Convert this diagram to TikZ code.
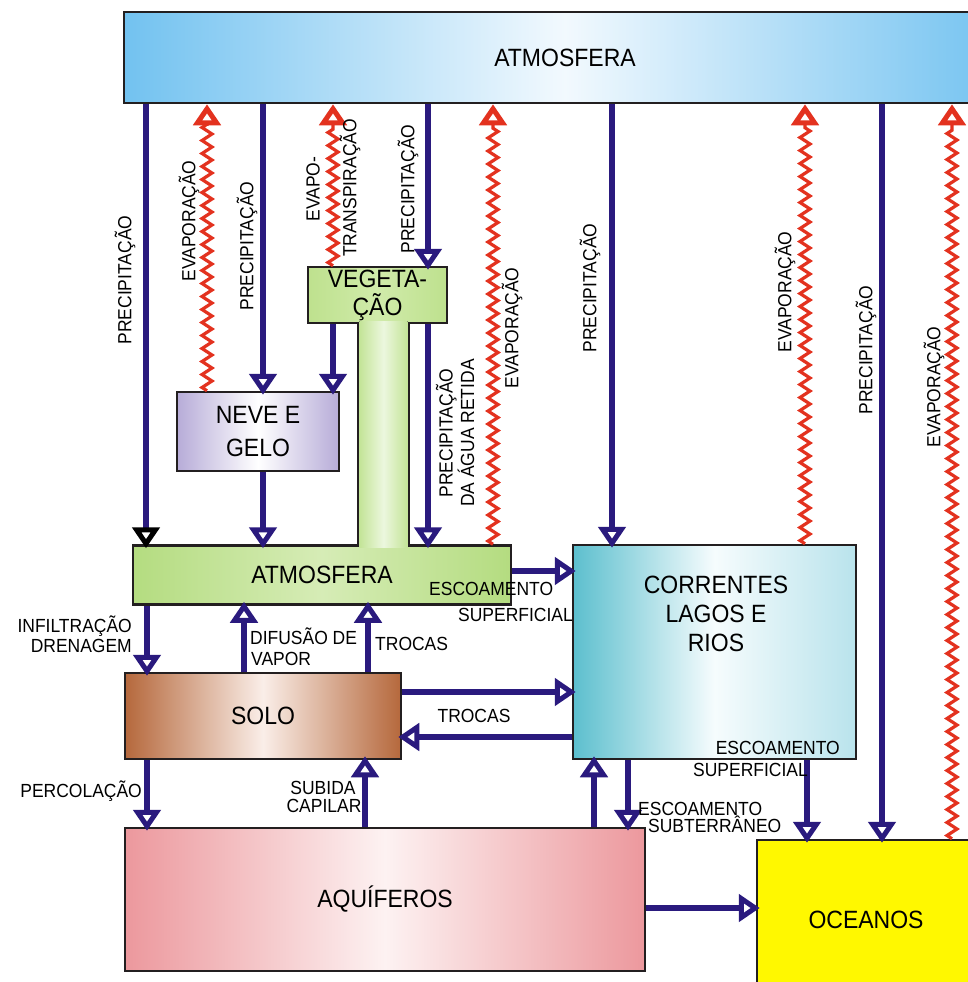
\documentclass[tikz,border=0pt]{standalone}
\usepackage{fontspec}
\setmainfont{Liberation Sans}[FakeStretch=0.92]
\usetikzlibrary{arrows.meta,decorations.pathmorphing,calc}
\definecolor{navyc}{HTML}{2A1A7E}
\definecolor{zred}{HTML}{E3321F}
\definecolor{bord}{HTML}{231F20}
\tikzset{
  box/.style={draw=bord, line width=2.5pt, inner sep=0pt, align=center, font=\fontsize{25}{29}\selectfont},
  boxtext/.style={inner sep=0pt, align=center, font=\fontsize{25}{29}\selectfont},
  lab/.style={inner sep=0pt, font=\fontsize{19}{20}\selectfont},
  flow/.style={draw=navyc, line width=6pt, shorten >=-4pt, -{Triangle[open,length=21pt,width=27pt,line width=5pt]}},
  flowk/.style={draw=navyc, line width=6pt, shorten >=-4pt, -{Triangle[open,length=21pt,width=27pt,line width=5pt,color=black]}},
  evap/.style={draw=zred, line width=3.2pt, decoration={zigzag,segment length=13pt,amplitude=5pt}, -{Triangle[open,length=21pt,width=27pt,line width=5pt]}},
  borderline/.style={draw=bord, line width=2.5pt},
}
\newcommand\evapline[2]{\draw[evap] (#1) decorate {-- ($(#2)+(0,20)$)} -- (#2);}
\begin{document}
\begin{tikzpicture}[x=1pt,y=-1pt]
\fill[white] (0,0) rectangle (967,982);
\useasboundingbox (0,0) rectangle (967,982);

% boxes
\node[box, minimum width=882pt, minimum height=91pt, left color={rgb,255:red,114;green,194;blue,240}, right color={rgb,255:red,114;green,194;blue,240}, middle color={rgb,255:red,242;green,249;blue,254}] (atm) at (565,57.5) {ATMOSFERA};
\node[box, minimum width=139pt, minimum height=56pt, left color={rgb,255:red,190;green,225;blue,142}, right color={rgb,255:red,190;green,225;blue,142}, middle color={rgb,255:red,208;green,235;blue,170}] (veg) at (377.5,295) {VEGETA-\\[-1pt]ÇÃO};
\node[box, minimum width=162pt, minimum height=79pt, font=\fontsize{25}{33}\selectfont, left color={rgb,255:red,183;green,172;blue,216}, right color={rgb,255:red,183;green,172;blue,216}, middle color=white] (neve) at (258,431.5) {NEVE E\\GELO};
\node[box, minimum width=378pt, minimum height=59pt, left color={rgb,255:red,180;green,220;blue,128}, right color={rgb,255:red,180;green,220;blue,128}, middle color={rgb,255:red,214;green,236;blue,182}] (gatm) at (322,575) {ATMOSFERA};
\node[box, minimum width=276pt, minimum height=86pt, left color={rgb,255:red,181;green,104;blue,60}, right color={rgb,255:red,181;green,104;blue,60}, middle color={rgb,255:red,250;green,238;blue,232}] (solo) at (263,716) {SOLO};
\node[box, minimum width=283pt, minimum height=214pt, left color={rgb,255:red,92;green,191;blue,206}, right color={rgb,255:red,185;green,227;blue,236}, middle color={rgb,255:red,246;green,252;blue,253}] (corr) at (714.5,652) {};
\node[box, minimum width=520pt, minimum height=143pt, left color={rgb,255:red,236;green,152;blue,157}, right color={rgb,255:red,236;green,152;blue,157}, middle color={rgb,255:red,253;green,242;blue,242}] (aq) at (385,899.5) {AQUÍFEROS};
\node[box, minimum width=218pt, minimum height=160pt, fill={rgb,255:red,255;green,248;blue,0}] (oce) at (866,920) {OCEANOS};
\node[boxtext] (corrtxt) at (716,614) {CORRENTES\\LAGOS E\\RIOS};

% stem of the T
\fill[left color={rgb,255:red,195;green,228;blue,151}, right color={rgb,255:red,195;green,228;blue,151}, middle color={rgb,255:red,236;green,247;blue,222}] (359.3,321) rectangle (407.7,547);
\draw[borderline] (veg.south -| 358,0) -- (gatm.north -| 358,0);
\draw[borderline] (veg.south -| 409,0) -- (gatm.north -| 409,0);

% precipitation and other navy flows
\draw[flowk] (atm.south -| 146,0) -- (gatm.north -| 146,0);
\draw[flow] (atm.south -| 263,0) -- (neve.north -| 263,0);
\draw[flow] (atm.south -| 428,0) -- (veg.north -| 428,0);
\draw[flow] (atm.south -| 612,0) -- (corr.north -| 612,0);
\draw[flow] (atm.south -| 882,0) -- (oce.north -| 882,0);
\draw[flow] (veg.south -| 333,0) -- (neve.north -| 333,0);
\draw[flow] (veg.south -| 428,0) -- (gatm.north -| 428,0);
\draw[flow] (neve.south -| 263,0) -- (gatm.north -| 263,0);
\draw[flow] (gatm.east |- 0,571) -- (corr.west |- 0,571);
\draw[flow] (gatm.south -| 147,0) -- (solo.north -| 147,0);
\draw[flow] (solo.north -| 244,0) -- (gatm.south -| 244,0);
\draw[flow] (solo.north -| 368,0) -- (gatm.south -| 368,0);
\draw[flow] (solo.east |- 0,692) -- (corr.west |- 0,692);
\draw[flow] (corr.west |- 0,737) -- (solo.east |- 0,737);
\draw[flow] (solo.south -| 147,0) -- (aq.north -| 147,0);
\draw[flow] (aq.north -| 365,0) -- (solo.south -| 365,0);
\draw[flow] (aq.north -| 594,0) -- (corr.south -| 594,0);
\draw[flow] (corr.south -| 628,0) -- (aq.north -| 628,0);
\draw[flow] (aq.east |- 0,908) -- (oce.west |- 0,908);
\draw[flow] (corr.south -| 807,0) -- (oce.north -| 807,0);

% evaporation
\evapline{neve.north -| 207,0}{atm.south -| 207,0}
\evapline{veg.north -| 333,0}{atm.south -| 333,0}
\evapline{gatm.north -| 493,0}{atm.south -| 493,0}
\evapline{corr.north -| 805,0}{atm.south -| 805,0}
\evapline{oce.north -| 952,0}{atm.south -| 952,0}

% rotated labels
\node[lab, rotate=90] (r1) at (125,280) {PRECIPITAÇÃO};
\node[lab, rotate=90] (r2) at (189,221) {EVAPORAÇÃO};
\node[lab, rotate=90] (r3) at (247,246) {PRECIPITAÇÃO};
\node[lab, rotate=90] (r4a) at (313,189) {EVAPO-};
\node[lab, rotate=90] (r4b) at (350,188) {TRANSPIRAÇÃO};
\node[lab, rotate=90] (r5) at (408,189) {PRECIPITAÇÃO};
\node[lab, rotate=90] (r6) at (512,328) {EVAPORAÇÃO};
\node[lab, rotate=90, align=center] (r7) at (455,433) {PRECIPITAÇÃO\\DA ÁGUA RETIDA};
\node[lab, rotate=90] (r8) at (590,288) {PRECIPITAÇÃO};
\node[lab, rotate=90] (r9) at (785,292) {EVAPORAÇÃO};
\node[lab, rotate=90] (r10) at (866,350) {PRECIPITAÇÃO};
\node[lab, rotate=90] (r11) at (934,387) {EVAPORAÇÃO};

% horizontal labels
\node[lab, anchor=base east] (h1) at (132,632) {INFILTRAÇÃO};
\node[lab, anchor=base east] (h2) at (132,652) {DRENAGEM};
\node[lab, anchor=base west] (h3) at (250,644) {DIFUSÃO DE};
\node[lab, anchor=base west] (h4) at (251,665) {VAPOR};
\node[lab, anchor=base west] (h5) at (375,650) {TROCAS};
\node[lab, anchor=base west] (h6) at (429,595) {ESCOAMENTO};
\node[lab, anchor=base west] (h7) at (458,621) {SUPERFICIAL};
\node[lab, anchor=base] (h8) at (474,722) {TROCAS};
\node[lab, anchor=base east] (h9) at (142,797) {PERCOLAÇÃO};
\node[lab, anchor=base] (h10) at (323,794) {SUBIDA};
\node[lab, anchor=base] (h11) at (324,812) {CAPILAR};
\node[lab, anchor=base west] (h12) at (638,815) {ESCOAMENTO};
\node[lab, anchor=base west] (h13) at (648,832) {SUBTERRÂNEO};
\node[lab, anchor=base east] (h14) at (840,754) {ESCOAMENTO};
\node[lab, anchor=base east] (h15) at (808,776) {SUPERFICIAL};
\end{tikzpicture}
\end{document}
